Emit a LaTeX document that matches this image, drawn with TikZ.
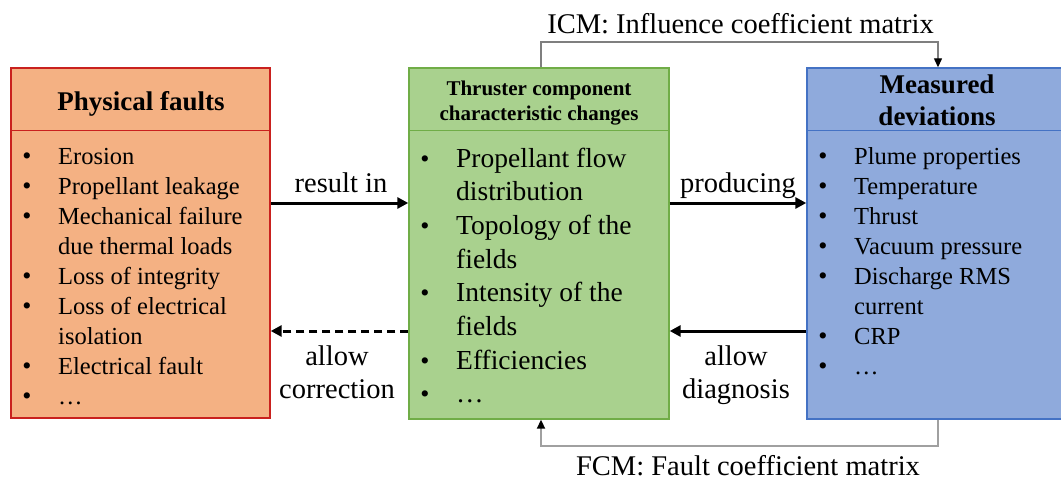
\documentclass[tikz,border=0pt]{standalone}
\usepackage{fontspec}
\setmainfont{Liberation Serif}
\usetikzlibrary{arrows.meta}
\definecolor{pfFill}{HTML}{F4B183}
\definecolor{pfDraw}{HTML}{C9211E}
\definecolor{tcFill}{HTML}{A9D18E}
\definecolor{tcDraw}{HTML}{70AD47}
\definecolor{mdFill}{HTML}{8FAADC}
\definecolor{mdDraw}{HTML}{4472C4}
\definecolor{icmGray}{HTML}{7F7F7F}
\definecolor{fcmGray}{HTML}{A0A0A0}
\tikzset{
  box/.style={rectangle, line width=1.4pt, inner sep=0pt},
  hdr/.style={inner sep=0pt, font=\fontsize{27}{30}\selectfont\bfseries},
  hdrsmall/.style={inner sep=0pt, font=\fontsize{21}{24}\selectfont\bfseries},
  itemtxt/.style={inner sep=0pt, anchor=base west, font=\fontsize{24.5}{30}\selectfont},
  itembig/.style={inner sep=0pt, anchor=base west, font=\fontsize{27.5}{33}\selectfont},
  bul/.style={inner sep=0pt, anchor=base, font=\fontsize{26}{30}\selectfont},
  lbl/.style={inner sep=0pt, anchor=base, font=\fontsize{28.5}{30}\selectfont},
  thickarrow/.style={line width=3pt, -{Triangle[length=11pt,width=11pt]}},
  thickdash/.style={thickarrow, dash pattern=on 8pt off 5pt},
  icmline/.style={draw=icmGray, line width=1.3pt, -{Triangle[length=9pt,width=8pt,color=black]}},
  fcmline/.style={draw=fcmGray, line width=2pt, -{Triangle[length=9pt,width=8pt,color=black]}}
}
\begin{document}
\begin{tikzpicture}[x=1pt,y=-1pt]
\useasboundingbox (0,0) rectangle (1061,482);
% boxes
\node[box, fill=pfFill, draw=pfDraw, minimum width=259pt, minimum height=350pt] (pf) at (140.5,243) {};
\node[box, fill=tcFill, draw=tcDraw, minimum width=260pt, minimum height=351pt] (tc) at (539,243.5) {};
\node[box, fill=mdFill, draw=mdDraw, minimum width=255pt, minimum height=351pt] (md) at (934.5,243.5) {};
% header dividers
\coordinate (hy) at (0,130.5);
\draw[pfDraw, line width=1.4pt] (pf.west |- hy) -- (pf.east |- hy);
\draw[tcDraw, line width=1.4pt] (tc.west |- hy) -- (tc.east |- hy);
\draw[mdDraw, line width=1.4pt] (md.west |- hy) -- (md.east |- hy);
% headers
\node[hdr, anchor=base] (pfh) at (141,110) {Physical faults};
\node[hdrsmall, anchor=base] (tch1) at (539,95) {Thruster component};
\node[hdrsmall, anchor=base] (tch2) at (539,120) {characteristic changes};
\node[hdr, anchor=base] (mdh1) at (937,93) {Measured};
\node[hdr, anchor=base] (mdh2) at (937,125) {deviations};
% left list
\foreach \i/\b/\t in {1/1/Erosion, 2/1/Propellant leakage, 3/1/Mechanical failure, 4/0/due thermal loads, 5/1/Loss of integrity, 6/1/Loss of electrical, 7/0/isolation, 8/1/Electrical fault, 9/1/…}{
  \node[itemtxt] (pfi\i) at (58,{164+30*(\i-1)}) {\t};
  \ifnum\b=1 \node[bul] (pfb\i) at (27,{164+30*(\i-1)}) {\textbullet};\fi
}
% middle list
\foreach \i/\b/\t in {1/1/Propellant flow, 2/0/distribution, 3/1/Topology of the, 4/0/fields, 5/1/Intensity of the, 6/0/fields, 7/1/Efficiencies, 8/1/…}{
  \node[itembig] (tci\i) at (456,{167+33.7*(\i-1)}) {\t};
  \ifnum\b=1 \node[bul] (tcb\i) at (425,{167+33.7*(\i-1)}) {\textbullet};\fi
}
% right list
\foreach \i/\b/\t in {1/1/Plume properties, 2/1/Temperature, 3/1/Thrust, 4/1/Vacuum pressure, 5/1/Discharge RMS, 6/0/current, 7/1/CRP, 8/1/…}{
  \node[itemtxt] (mdi\i) at (854,{164+30*(\i-1)}) {\t};
  \ifnum\b=1 \node[bul] (mdb\i) at (823,{164+30*(\i-1)}) {\textbullet};\fi
}
% horizontal arrows
\coordinate (ya) at (0,203);
\coordinate (yb) at (0,331);
\draw[thickarrow] (pf.east |- ya) -- (tc.west |- ya);
\draw[thickdash] (tc.west |- yb) -- (pf.east |- yb);
\draw[thickarrow] (tc.east |- ya) -- (md.west |- ya);
\draw[thickarrow] (md.west |- yb) -- (tc.east |- yb);
\node[lbl] (lri) at (341,192) {result in};
\node[lbl] (lac1) at (337,365) {allow};
\node[lbl] (lac2) at (337,398) {correction};
\node[lbl] (lpr) at (738,192) {producing};
\node[lbl] (lad1) at (736,365) {allow};
\node[lbl] (lad2) at (736,398) {diagnosis};
% ICM / FCM connectors
\coordinate (icmL) at (541,42);
\coordinate (icmR) at (938,42);
\draw[icmline] (tc.north -| icmL) -- (icmL) -- (icmR) -- (md.north -| icmR);
\node[lbl] (icm) at (740.5,33) {ICM: Influence coefficient matrix};
\coordinate (fcmL) at (541,446);
\coordinate (fcmR) at (938,446);
\draw[fcmline] (md.south -| fcmR) -- (fcmR) -- (fcmL) -- (tc.south -| fcmL);
\node[lbl] (fcm) at (748,475) {FCM: Fault coefficient matrix};
\end{tikzpicture}
\end{document}
